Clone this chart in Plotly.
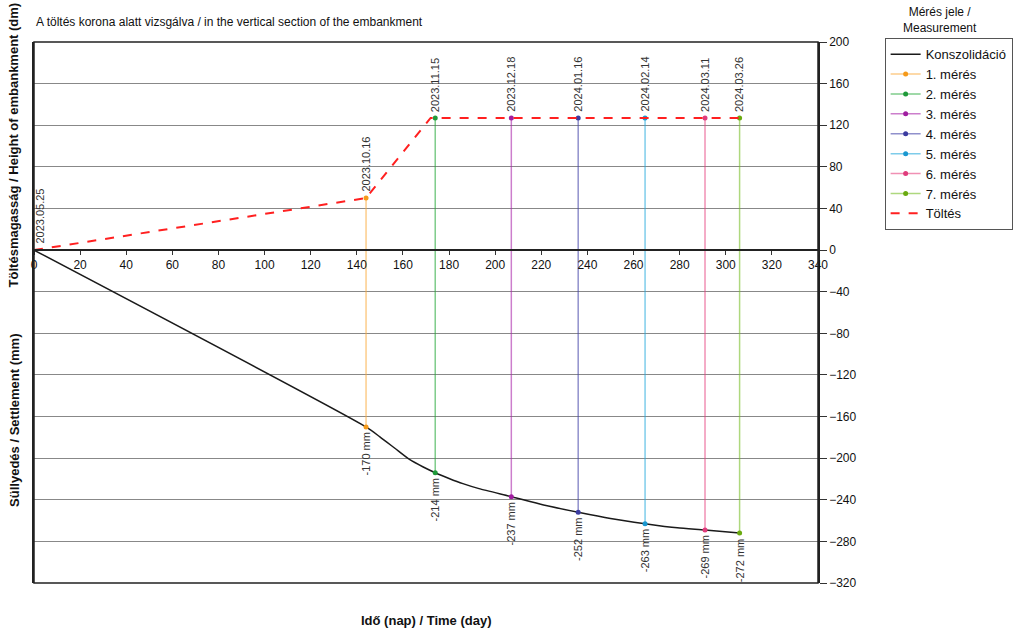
import plotly.graph_objects as go

# ---- data ----
curve_days = [0, 144, 150, 156.5, 163, 168.8, 174, 180, 186, 193, 207, 221, 236, 250, 265, 279, 291, 306]
curve_vals = [0, -170, -179.5, -190.5, -201.5, -208.5, -214, -219.5, -224.5, -229.3, -237, -245, -252, -258, -263, -267, -269, -272]

fill_days = [0, 144, 172, 174, 207, 236, 265, 291, 306]
fill_vals = [0, 50, 127, 127, 127, 127, 127, 127, 127]

meas_names = ["1. mérés", "2. mérés", "3. mérés", "4. mérés", "5. mérés", "6. mérés", "7. mérés"]
meas_dates = ["2023.10.16", "2023.11.15", "2023.12.18", "2024.01.16", "2024.02.14", "2024.03.11", "2024.03.26"]
meas_days = [144, 174, 207, 236, 265, 291, 306]
meas_fill = [50, 127, 127, 127, 127, 127, 127]
meas_settle = [-170, -214, -237, -252, -263, -269, -272]
meas_labels = ["-170 mm", "-214 mm", "-237 mm", "-252 mm", "-263 mm", "-269 mm", "-272 mm"]

start_date = "2023.05.25"

x_ticks = list(range(0, 341, 20))
y_ticks = list(range(-320, 201, 40))

line_colors = ["rgba(250,170,60,0.6)", "rgba(40,170,60,0.6)", "rgba(170,40,170,0.6)", "rgba(70,70,170,0.6)",
               "rgba(40,170,220,0.6)", "rgba(230,70,130,0.6)", "rgba(120,190,40,0.6)"]
marker_colors = ["#f59a1a", "#1f9a3a", "#a01ea0", "#3c3ca0", "#1a98d0", "#e03c7c", "#6aaa10"]

FONT = "Arial, Liberation Sans, sans-serif"

fig = go.Figure()

fig.add_trace(go.Scatter(x=curve_days, y=curve_vals, mode="lines", name="Konszolidáció",
                         line=dict(color="#1a1a1a", width=1.5, shape="spline", smoothing=0.6)))

for i in range(len(meas_days)):
    fig.add_trace(go.Scatter(x=[meas_days[i], meas_days[i]], y=[meas_fill[i], meas_settle[i]],
                             mode="lines+markers", name=meas_names[i],
                             line=dict(color=line_colors[i], width=1.5),
                             marker=dict(color=marker_colors[i], size=5)))

fig.add_trace(go.Scatter(x=fill_days, y=fill_vals, mode="lines", name="Töltés",
                         line=dict(color="#ff2020", width=2, dash="dash")))

annotations = []
# date labels
annotations.append(dict(x=0, y=0, text=start_date, textangle=-90, showarrow=False,
                        xanchor="center", yanchor="bottom", xshift=6, yshift=4,
                        font=dict(size=11, color="#333333", family=FONT)))
for d, f, lab in zip(meas_days, meas_fill, meas_dates):
    annotations.append(dict(x=d, y=f, text=lab, textangle=-90, showarrow=False,
                            xanchor="center", yanchor="bottom", yshift=4,
                            font=dict(size=11, color="#333333", family=FONT)))
for d, s, lab in zip(meas_days, meas_settle, meas_labels):
    annotations.append(dict(x=d, y=s, text=lab, textangle=-90, showarrow=False,
                            xanchor="center", yanchor="top", yshift=-4,
                            font=dict(size=11, color="#333333", family=FONT)))

# titles
annotations.append(dict(x=0, y=1.037, xref="paper", yref="paper", xanchor="left", yanchor="middle",
                        text="A töltés korona alatt vizsgálva / in the vertical section of the embankment",
                        showarrow=False, font=dict(size=12, color="#111111", family=FONT)))
annotations.append(dict(x=0.5, y=-0.07, xref="paper", yref="paper", xanchor="center", yanchor="middle",
                        text="<b>Idő (nap) / Time (day)</b>", showarrow=False,
                        font=dict(size=13, color="#111111", family=FONT)))
annotations.append(dict(x=-0.026, y=0.81, xref="paper", yref="paper", xanchor="center", yanchor="middle",
                        text="<b>Töltésmagasság / Height of embankment (dm)</b>", textangle=-90, showarrow=False,
                        font=dict(size=13, color="#111111", family=FONT)))
annotations.append(dict(x=-0.024, y=0.30, xref="paper", yref="paper", xanchor="center", yanchor="middle",
                        text="<b>Süllyedés / Settlement (mm)</b>", textangle=-90, showarrow=False,
                        font=dict(size=13, color="#111111", family=FONT)))
annotations.append(dict(x=1.156, y=1.04, xref="paper", yref="paper", xanchor="center", yanchor="middle",
                        text="Mérés jele /<br>Measurement", showarrow=False,
                        font=dict(size=12, color="#111111", family=FONT)))

fig.update_layout(
    width=1017, height=631,
    margin=dict(l=34, r=199, t=42, b=48, autoexpand=False),
    paper_bgcolor="white", plot_bgcolor="white",
    font=dict(family=FONT, size=12, color="#111111"),
    showlegend=True,
    legend=dict(x=1.085, y=1.007, xanchor="left", yanchor="top",
                bordercolor="#555555", borderwidth=1, bgcolor="white",
                font=dict(size=13, family=FONT, color="#111111"),
                tracegroupgap=0, itemwidth=30),
    annotations=annotations,
    xaxis=dict(range=[0, 340], tickvals=x_ticks, ticks="outside", ticklen=4, tickcolor="#333333",
               showgrid=False, zeroline=False, showline=True, linecolor="#222222", linewidth=1.5,
               anchor="free", position=320 / 520, tickfont=dict(size=12, color="#111111")),
    yaxis=dict(range=[-320, 200], tickvals=y_ticks, side="right", ticks="outside", ticklen=7,
               tickcolor="#333333", showgrid=True, gridcolor="#888888", gridwidth=1,
               zeroline=False, showline=True, linecolor="#222222", linewidth=1.5, mirror=True,
               tickfont=dict(size=12, color="#111111")),
    shapes=[dict(type="rect", xref="paper", yref="paper", x0=0, x1=1, y0=0, y1=1,
                 line=dict(color="#222222", width=1.5), layer="above")],
)

fig.write_html("out.html", config={"displayModeBar": False},
               post_script="document.body.style.margin='0';document.body.style.overflow='hidden';")
